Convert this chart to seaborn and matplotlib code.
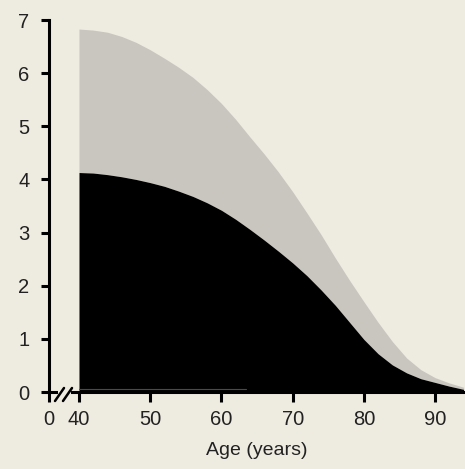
import matplotlib
matplotlib.use("Agg")
import matplotlib.pyplot as plt
import seaborn as sns

# ---- data ----
ages = [40, 42, 44, 46, 48, 50, 52, 54, 56, 58, 60, 62, 64, 66, 68, 70,
        72, 74, 76, 78, 80, 82, 84, 86, 88, 90, 92, 94]
total_vals = [6.83, 6.81, 6.77, 6.69, 6.58, 6.44, 6.28, 6.11, 5.92, 5.69,
              5.43, 5.13, 4.80, 4.48, 4.14, 3.77, 3.37, 2.96, 2.52, 2.10,
              1.70, 1.31, 0.95, 0.64, 0.42, 0.27, 0.17, 0.09]
lower_vals = [4.13, 4.12, 4.09, 4.05, 4.00, 3.94, 3.87, 3.78, 3.68, 3.56,
              3.42, 3.25, 3.06, 2.86, 2.65, 2.43, 2.19, 1.92, 1.63, 1.31,
              0.99, 0.72, 0.51, 0.36, 0.25, 0.18, 0.11, 0.05]
x_tick_pos = [35.79, 40, 50, 60, 70, 80, 90]
x_tick_labels = ["0", "40", "50", "60", "70", "80", "90"]
y_ticks = [0, 1, 2, 3, 4, 5, 6, 7]
x_label = "Age (years)"

BG = "#EEEBE1"
GRAY = "#C9C6BF"
BLACK = "#000000"
TXT = "#222222"

sns.set_theme(style="ticks")
plt.rcParams['font.family'] = ['Liberation Sans', 'DejaVu Sans']

W, H = 465, 469
fig = plt.figure(figsize=(W / 100, H / 100), dpi=100, facecolor=BG)
ax = fig.add_axes([49 / W, 77 / H, 416 / W, 372 / H])
ax.set_facecolor(BG)

ax.fill_between(ages, lower_vals, total_vals, color=GRAY, lw=0, zorder=1)
ax.fill_between(ages, 0, lower_vals, color=BLACK, lw=0, zorder=2)
# faint line near the baseline seen in the reference
ax.plot([40, 63.5], [0.05, 0.05], color="#4a4a4a", lw=0.8, zorder=3)

ax.set_xlim(35.79, 94.2)
ax.set_ylim(0, 7)
ax.set_xticks(x_tick_pos)
ax.set_xticklabels(x_tick_labels)
ax.set_yticks(y_ticks)

for s in ["top", "right"]:
    ax.spines[s].set_visible(False)
for s in ["left", "bottom"]:
    ax.spines[s].set_linewidth(2.2)
    ax.spines[s].set_color(BLACK)
    ax.spines[s].set_zorder(4)

ax.tick_params(axis="x", direction="out", length=7, width=2.2, color=BLACK,
               labelsize=14.5, labelcolor=TXT, pad=6)
ax.tick_params(axis="y", direction="out", length=6, width=2.2, color=BLACK,
               labelsize=14.5, labelcolor=TXT, pad=8)
ax.set_xlabel(x_label, fontsize=14, color=TXT, labelpad=9)
ax.set_ylabel("")

# axis break on the x axis
def px(xp, yp):
    return ((xp - 49) / 416, (392 - yp) / 372)

gx0, gy = px(58, 392)
gx1, _ = px(71, 392)
ax.plot([gx0, gx1], [gy, gy], transform=ax.transAxes, color=BG, lw=4,
        clip_on=False, zorder=6, solid_capstyle="butt")
for a, b in [((55, 401), (64, 388)), ((63, 401), (72, 388))]:
    p0 = px(*a)
    p1 = px(*b)
    ax.plot([p0[0], p1[0]], [p0[1], p1[1]], transform=ax.transAxes,
            color=BLACK, lw=1.8, clip_on=False, zorder=7)

fig.savefig("out.png", dpi=100, facecolor=BG)
